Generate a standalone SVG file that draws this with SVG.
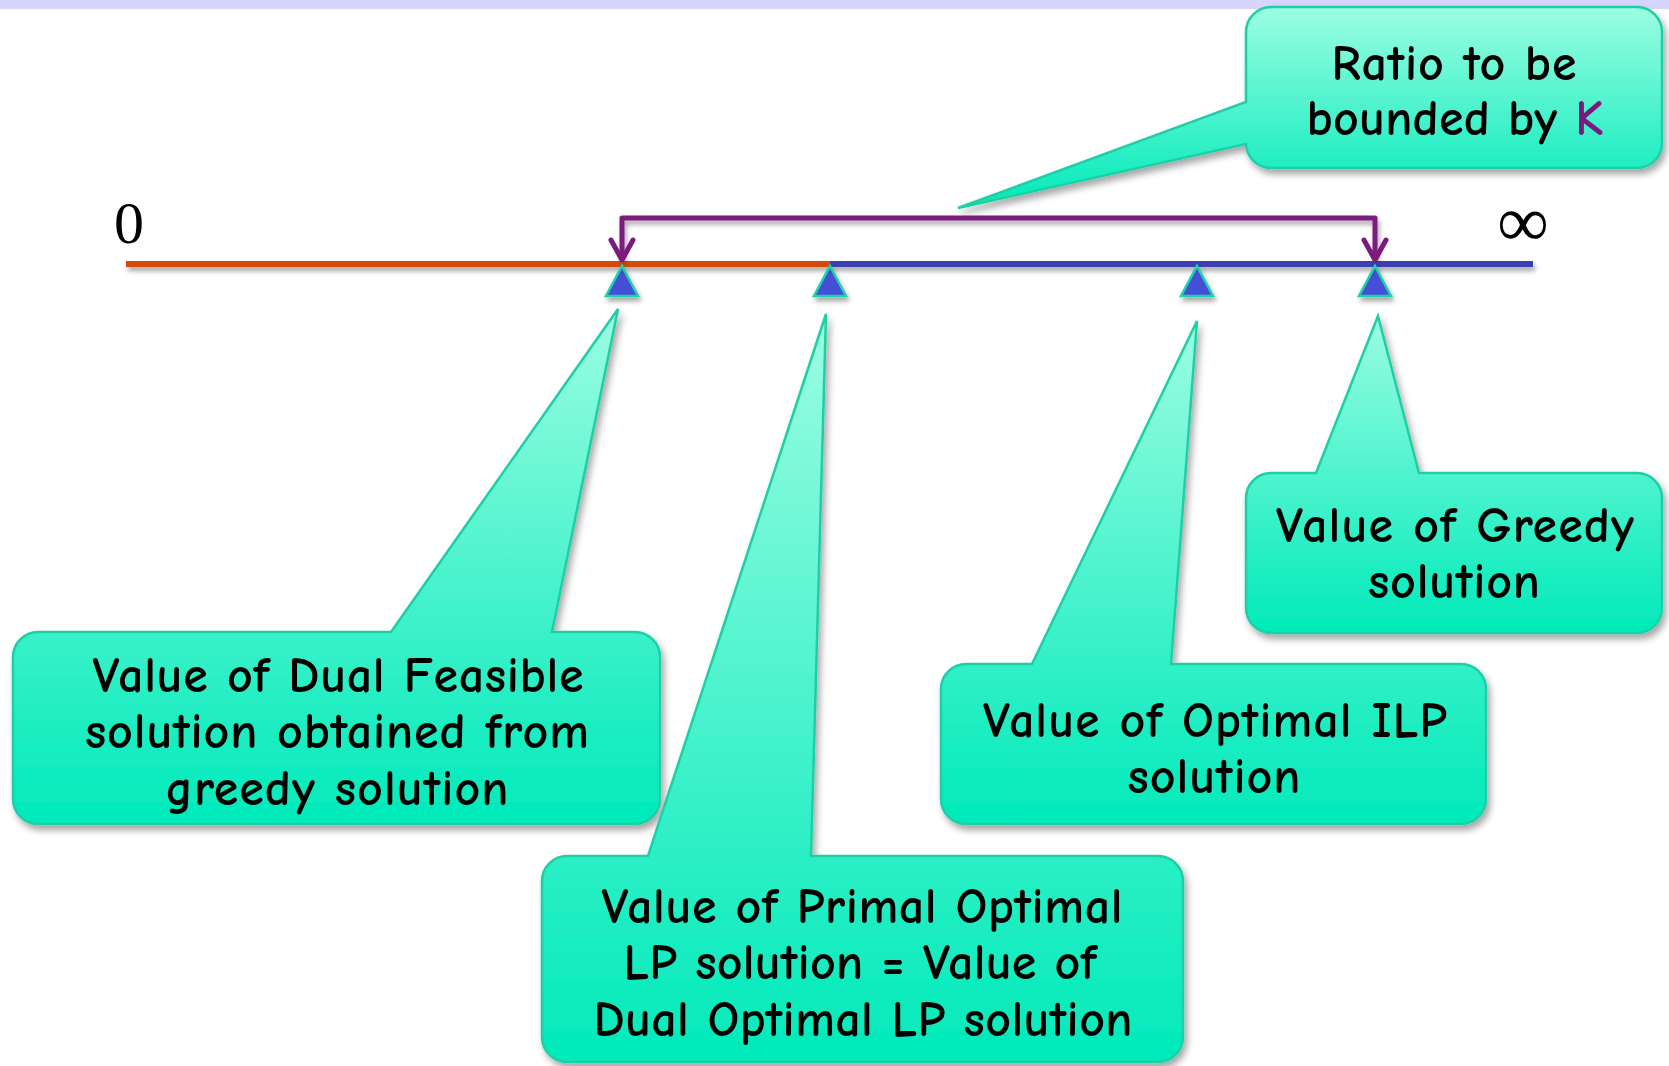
<svg xmlns="http://www.w3.org/2000/svg" width="1669" height="1066" viewBox="0 0 1669 1066">
  <style>
    .callout { stroke: #1fcfa6; stroke-width: 2.5; fill: url(#mint); filter: url(#soft); }
    .label { font-family: 'Comic Sans MS', 'Comic Neue', Lato, sans-serif; font-size: 50px; font-weight: bold; fill: #000; text-anchor: middle; }
    .mark { fill: #4450d6; stroke: #1ed2aa; stroke-width: 2.5; stroke-linejoin: miter; filter: url(#lineShadow); }
    .bracket { stroke: #7b1a7c; stroke-width: 5; fill: none; stroke-linejoin: round; filter: url(#lineShadow); }
    .tip { stroke: #7b1a7c; stroke-width: 5; fill: none; stroke-linecap: round; stroke-linejoin: round; }
    .serif { font-family: 'Liberation Serif', 'Times New Roman', serif; fill: #000; text-anchor: middle; }
  </style>
  <defs>
    <linearGradient id="mint" x1="0" y1="0" x2="0" y2="1">
      <stop offset="0" stop-color="#9cfde2"/>
      <stop offset="1" stop-color="#00eaba"/>
    </linearGradient>
    <filter id="soft" x="-10%" y="-10%" width="125%" height="130%">
      <feDropShadow dx="3" dy="5" stdDeviation="3.5" flood-color="#000" flood-opacity="0.35"/>
    </filter>
    <filter id="lineShadow" filterUnits="userSpaceOnUse" x="0" y="0" width="1669" height="1066">
      <feDropShadow dx="2" dy="4" stdDeviation="2.5" flood-color="#000" flood-opacity="0.35"/>
    </filter>
  </defs>

  <!-- header band -->
  <rect x="0" y="0" width="1669" height="9" fill="#d6d6fd"/>

  <!-- end labels of the number line -->
  <text class="serif" x="129" y="243" font-size="60">0</text>
  <text class="serif" x="1523" y="246" font-size="72">∞</text>

  <g id="connectors">
    <!-- number line: orange part up to the LP optimum, blue part beyond -->
    <g filter="url(#lineShadow)">
      <rect x="126" y="261" width="704" height="6" fill="#d24b0e"/>
      <rect x="830" y="261" width="703" height="6" fill="#3a3fb0"/>
    </g>
    <!-- bracket spanning dual feasible value to greedy value -->
    <path class="bracket" d="M622,259 L622,218 L1375,218 L1375,259"/>
    <path class="tip" d="M611,240 L622,260 L633,240"/>
    <path class="tip" d="M1364,240 L1375,260 L1386,240"/>
  </g>

  <!-- value markers on the line -->
  <g id="markers">
    <polygon id="m-dual" class="mark" points="622,266 638,296 606,296"/>
    <polygon id="m-lp" class="mark" points="830,266 846,296 814,296"/>
    <polygon id="m-ilp" class="mark" points="1197,266 1213,296 1181,296"/>
    <polygon id="m-greedy" class="mark" points="1375,266 1391,296 1359,296"/>
  </g>

  <g id="ratio">
    <path class="callout" d="M1271,7 L1637,7 A25,25 0 0 1 1662,32 L1662,143 A25,25 0 0 1 1637,168 L1271,168 A25,25 0 0 1 1246,143 L1246,144 L958,208 L1246,102 L1246,32 A25,25 0 0 1 1271,7 Z"/>
    <text class="label" x="1454" y="80" textLength="245">Ratio to be</text>
    <text class="label" x="1455" y="135" textLength="297">bounded by <tspan fill="#7b1a7c">K</tspan></text>
  </g>

  <g id="dual-feasible">
    <path class="callout" d="M38,632 L391,632 L618,309 L552,632 L635,632 A25,25 0 0 1 660,657 L660,799 A25,25 0 0 1 635,824 L38,824 A25,25 0 0 1 13,799 L13,657 A25,25 0 0 1 38,632 Z"/>
    <text class="label" x="338" y="692" textLength="491">Value of Dual Feasible</text>
    <text class="label" x="337" y="748" textLength="504">solution obtained from</text>
    <text class="label" x="337" y="805" textLength="343">greedy solution</text>
  </g>

  <g id="ilp-optimal">
    <path class="callout" d="M966,664 L1032,664 L1197,321 L1171,664 L1461,664 A25,25 0 0 1 1486,689 L1486,799 A25,25 0 0 1 1461,824 L966,824 A25,25 0 0 1 941,799 L941,689 A25,25 0 0 1 966,664 Z"/>
    <text class="label" x="1215" y="737" textLength="464">Value of Optimal ILP</text>
    <text class="label" x="1214" y="793" textLength="173">solution</text>
  </g>

  <g id="greedy">
    <path class="callout" d="M1271,473 L1316,473 L1378,316 L1419,473 L1637,473 A25,25 0 0 1 1662,498 L1662,608 A25,25 0 0 1 1637,633 L1271,633 A25,25 0 0 1 1246,608 L1246,498 A25,25 0 0 1 1271,473 Z"/>
    <text class="label" x="1455" y="542" textLength="358">Value of Greedy</text>
    <text class="label" x="1454" y="598" textLength="172">solution</text>
  </g>

  <g id="lp-optimal">
    <path class="callout" d="M567,856 L648,856 L826,314 L811,856 L1158,856 A25,25 0 0 1 1183,881 L1183,1037 A25,25 0 0 1 1158,1062 L567,1062 A25,25 0 0 1 542,1037 L542,881 A25,25 0 0 1 567,856 Z"/>
    <text class="label" x="862" y="923" textLength="521">Value of Primal Optimal</text>
    <text class="label" x="860" y="979" textLength="473">LP solution = Value of</text>
    <text class="label" x="863" y="1036" textLength="539">Dual Optimal LP solution</text>
  </g>
</svg>
